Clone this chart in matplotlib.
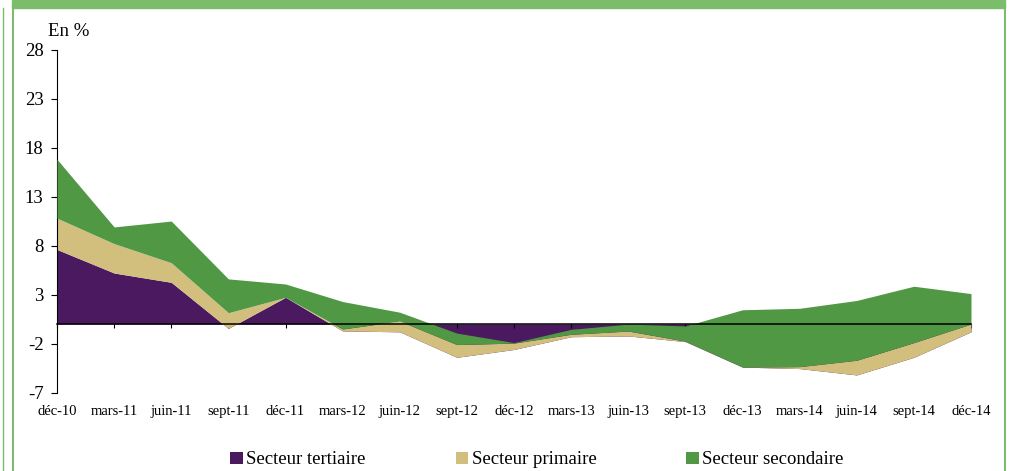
import numpy as np
import matplotlib
matplotlib.use("Agg")
import matplotlib.pyplot as plt
from matplotlib.patches import Rectangle
from matplotlib.lines import Line2D

plt.rcParams["font.family"] = ["Liberation Serif", "DejaVu Serif"]
plt.rcParams["axes.unicode_minus"] = False

# contributions par secteur (en points de %)
dates = ["déc-10", "mars-11", "juin-11", "sept-11", "déc-11", "mars-12", "juin-12",
         "sept-12", "déc-12", "mars-13", "juin-13", "sept-13", "déc-13", "mars-14",
         "juin-14", "sept-14", "déc-14"]
tertiaire = [7.6, 5.2, 4.25, -0.45, 2.72, -0.71, -0.8, -3.4, -2.6, -1.3, -1.22,
             -1.8, -4.4, -4.55, -5.2, -3.4, -0.8]
primaire = [3.2, 3.0, 2.0, 1.6, 0.0, 0.2, 1.1, 1.3, 0.65, 0.25, 0.5,
            0.05, 0.0, 0.2, 1.5, 1.5, 0.8]
secondaire = [6.0, 1.7, 4.25, 3.45, 1.36, 2.8, 0.9, 1.17, 0.05, 0.5, 0.71,
              1.55, 5.85, 5.95, 6.1, 5.75, 3.1]
yticks = [-7, -2, 3, 8, 13, 18, 23, 28]

c_ter = "#4A1960"
c_pri = "#D2BE7D"
c_sec = "#509844"

x = np.arange(len(dates))
t = np.array(tertiaire)
tp = t + np.array(primaire)
tot = tp + np.array(secondaire)

fig = plt.figure(figsize=(10.14, 4.71), dpi=100)
ax = fig.add_axes([57/1014, 1-392.6/471, (971-57)/1014, (392.6-49.5)/471])

# aires empilees, comme Excel
a1 = ax.fill_between(x, 0, t, color=c_ter, lw=0, zorder=1, label="Secteur tertiaire")
a2 = ax.fill_between(x, t, tp, color=c_pri, lw=0, zorder=2, label="Secteur primaire")
a3 = ax.fill_between(x, tp, tot, color=c_sec, lw=0, zorder=3, label="Secteur secondaire")

ax.set_xlim(0, len(dates)-1)
ax.set_ylim(-7, 28)
ax.set_yticks(yticks)
ax.tick_params(axis="y", direction="out", length=4.3, width=0.8, pad=5.5, labelsize=13.5)

for s in ["top", "right"]:
    ax.spines[s].set_visible(False)
ax.spines["left"].set_linewidth(0.8)
ax.spines["bottom"].set_position(("data", 0))
ax.spines["bottom"].set_linewidth(1.1)
ax.spines["bottom"].set_zorder(5)
ax.set_xticks(x)
ax.tick_params(axis="x", direction="out", length=3, width=0.8, labelbottom=False)

# libelles en bas du graphique
sec = ax.secondary_xaxis(0)
sec.set_xticks(x)
sec.set_xticklabels(dates)
sec.tick_params(length=0, pad=9, labelsize=10.5)
sec.spines["bottom"].set_visible(False)

fig.text(48/1014, 1-31/471, "En %", fontsize=13.5, va="center", ha="left")

fig.legend(handles=[a1, a2, a3], loc="center", bbox_to_anchor=(537/1014, 1-460/471),
           ncol=3, frameon=False, fontsize=13.5, handlelength=0.65, handleheight=0.65,
           handletextpad=0.2, columnspacing=4.8, borderpad=0)

# cadre vert
green = "#7CBD6C"
fig.patches.append(Rectangle((12/1014, 1-8/471), (1005-12)/1014, 8/471,
                             transform=fig.transFigure, color=green, zorder=0))
fig.add_artist(Line2D([12.5/1014, 12.5/1014], [0, 1-8/471], color=green, lw=1.5))
fig.add_artist(Line2D([1005/1014, 1005/1014], [0, 1-8/471], color=green, lw=1.5))
fig.add_artist(Line2D([2.5/1014, 2.5/1014], [0, 1-8/471], color=green, lw=1))

fig.savefig("out.png", dpi=100)
